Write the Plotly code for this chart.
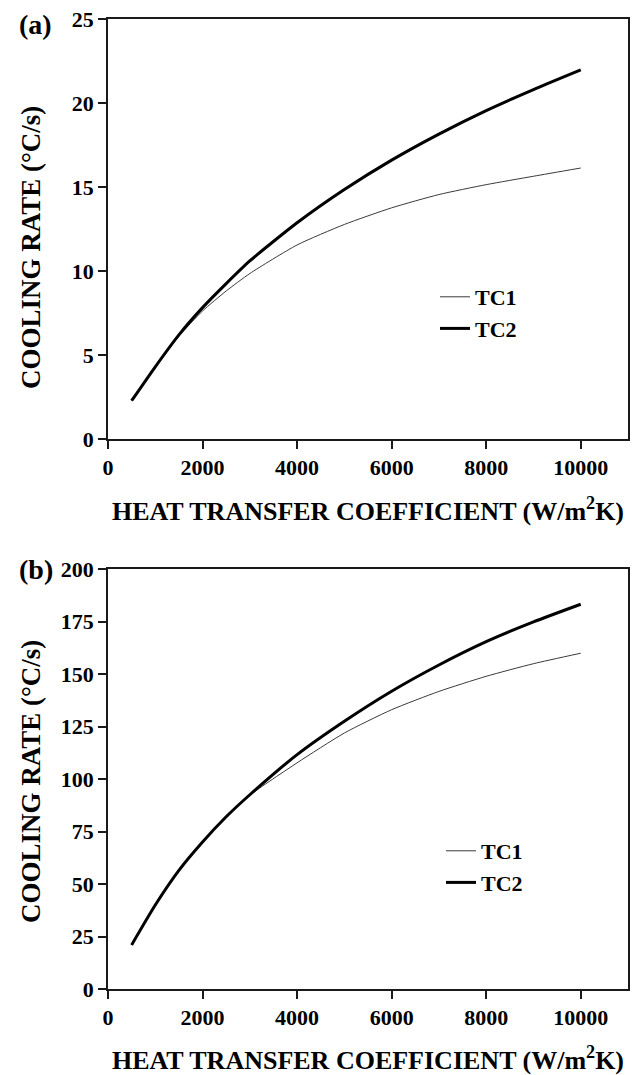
import plotly.graph_objects as go
from plotly.subplots import make_subplots

# Heat transfer coefficient (W/m^2K)
htc = [500, 1000, 1500, 2000, 2500, 3000, 4000, 5000, 6000, 7000, 8000, 9000, 10000]

# Panel (a) cooling rates (°C/s)
a_tc1 = [2.28, 4.26, 6.12, 7.62, 8.81, 9.85, 11.55, 12.77, 13.76, 14.55, 15.14, 15.64, 16.13]
a_tc2 = [2.28, 4.3, 6.2, 7.82, 9.25, 10.6, 12.87, 14.85, 16.6, 18.15, 19.55, 20.8, 21.97]

# Panel (b) cooling rates (°C/s)
b_tc1 = [21.0, 40.0, 56.5, 70.0, 82.0, 92.3, 107.7, 121.9, 133.0, 141.7, 148.9, 154.9, 159.9]
b_tc2 = [21.0, 40.0, 56.5, 70.0, 82.0, 92.5, 111.6, 127.5, 141.8, 154.3, 165.4, 174.8, 183.2]

x_ticks = [0, 2000, 4000, 6000, 8000, 10000]
a_ticks = [0, 5, 10, 15, 20, 25]
b_ticks = [0, 25, 50, 75, 100, 125, 150, 175, 200]

FONT = "Liberation Serif"
OFF = 8  # default page body margin
W, H = 644 - OFF, 1075 - OFF
# plot area in page pixels: x 108..628, y 19..989
L = 108 - OFF
T = 19 - OFF
R = W - (628 - OFF)
B = H - (989 - OFF)
PW = 628 - 108
PH = 989 - 19


def py(pix):
    return (989 - pix) / PH


def px(pix):
    return (pix - 108) / PW


fig = make_subplots(rows=2, cols=1)

thin = dict(color="#3a3a3a", width=1, shape="spline", smoothing=0.6)
thick = dict(color="black", width=3, shape="spline", smoothing=0.6)

fig.add_trace(go.Scatter(x=htc, y=a_tc1, mode="lines", name="TC1", line=thin,
                         legend="legend"), row=1, col=1)
fig.add_trace(go.Scatter(x=htc, y=a_tc2, mode="lines", name="TC2", line=thick,
                         legend="legend"), row=1, col=1)
fig.add_trace(go.Scatter(x=htc, y=b_tc1, mode="lines", name="TC1", line=thin,
                         legend="legend2"), row=2, col=1)
fig.add_trace(go.Scatter(x=htc, y=b_tc2, mode="lines", name="TC2", line=thick,
                         legend="legend2"), row=2, col=1)

axis_common = dict(
    showgrid=False, zeroline=False, showline=True, linecolor="#1a1a1a", linewidth=1.5,
    mirror=True, ticks="outside", ticklen=8, tickwidth=1.5, tickcolor="#1a1a1a",
    ticklabeloverflow="allow",
    tickfont=dict(family=FONT, size=22, color="black", weight="bold"),
)
xtitle = dict(text="HEAT TRANSFER COEFFICIENT (W/m<sup>2</sup>K)",
              font=dict(family=FONT, size=26, color="black", weight="bold"), standoff=23)

fig.update_xaxes(range=[0, 11000], tickvals=x_ticks, tickformat="d", title=xtitle, **axis_common)
fig.update_yaxes(**axis_common)
fig.update_yaxes(range=[0, 25], tickvals=a_ticks, row=1, col=1)
fig.update_yaxes(range=[0, 200], tickvals=b_ticks, row=2, col=1)

legend_font = dict(family=FONT, size=22, color="black", weight="bold")
fig.update_layout(
    width=W, height=H,
    margin=dict(l=L, r=R, t=T, b=B, autoexpand=False),
    paper_bgcolor="white", plot_bgcolor="white",
    xaxis=dict(domain=[0, 1]),
    yaxis=dict(domain=[py(439), 1.0]),
    xaxis2=dict(domain=[0, 1]),
    yaxis2=dict(domain=[0.0, py(569)]),
    legend=dict(x=px(435), y=py(276), xanchor="left", yanchor="top",
                bgcolor="rgba(0,0,0,0)", font=legend_font, tracegroupgap=0),
    legend2=dict(x=px(441), y=py(830), xanchor="left", yanchor="top",
                 bgcolor="rgba(0,0,0,0)", font=legend_font, tracegroupgap=0),
    showlegend=True,
)

ytitle_font = dict(family=FONT, size=27, color="black", weight="bold")
for ycen in (248, 782):
    fig.add_annotation(text="COOLING RATE (°C/s)", xref="paper", yref="paper",
                       x=px(31), y=py(ycen), textangle=-90, showarrow=False,
                       xanchor="center", yanchor="middle", font=ytitle_font)

fig.add_annotation(text="(a)", xref="paper", yref="paper", x=px(35), y=py(25),
                   showarrow=False, xanchor="center", yanchor="middle",
                   font=dict(family=FONT, size=28, color="black", weight="bold"))
fig.add_annotation(text="(b)", xref="paper", yref="paper", x=px(36), y=py(569),
                   showarrow=False, xanchor="center", yanchor="middle",
                   font=dict(family=FONT, size=28, color="black", weight="bold"))

fig.write_html("out.html")
